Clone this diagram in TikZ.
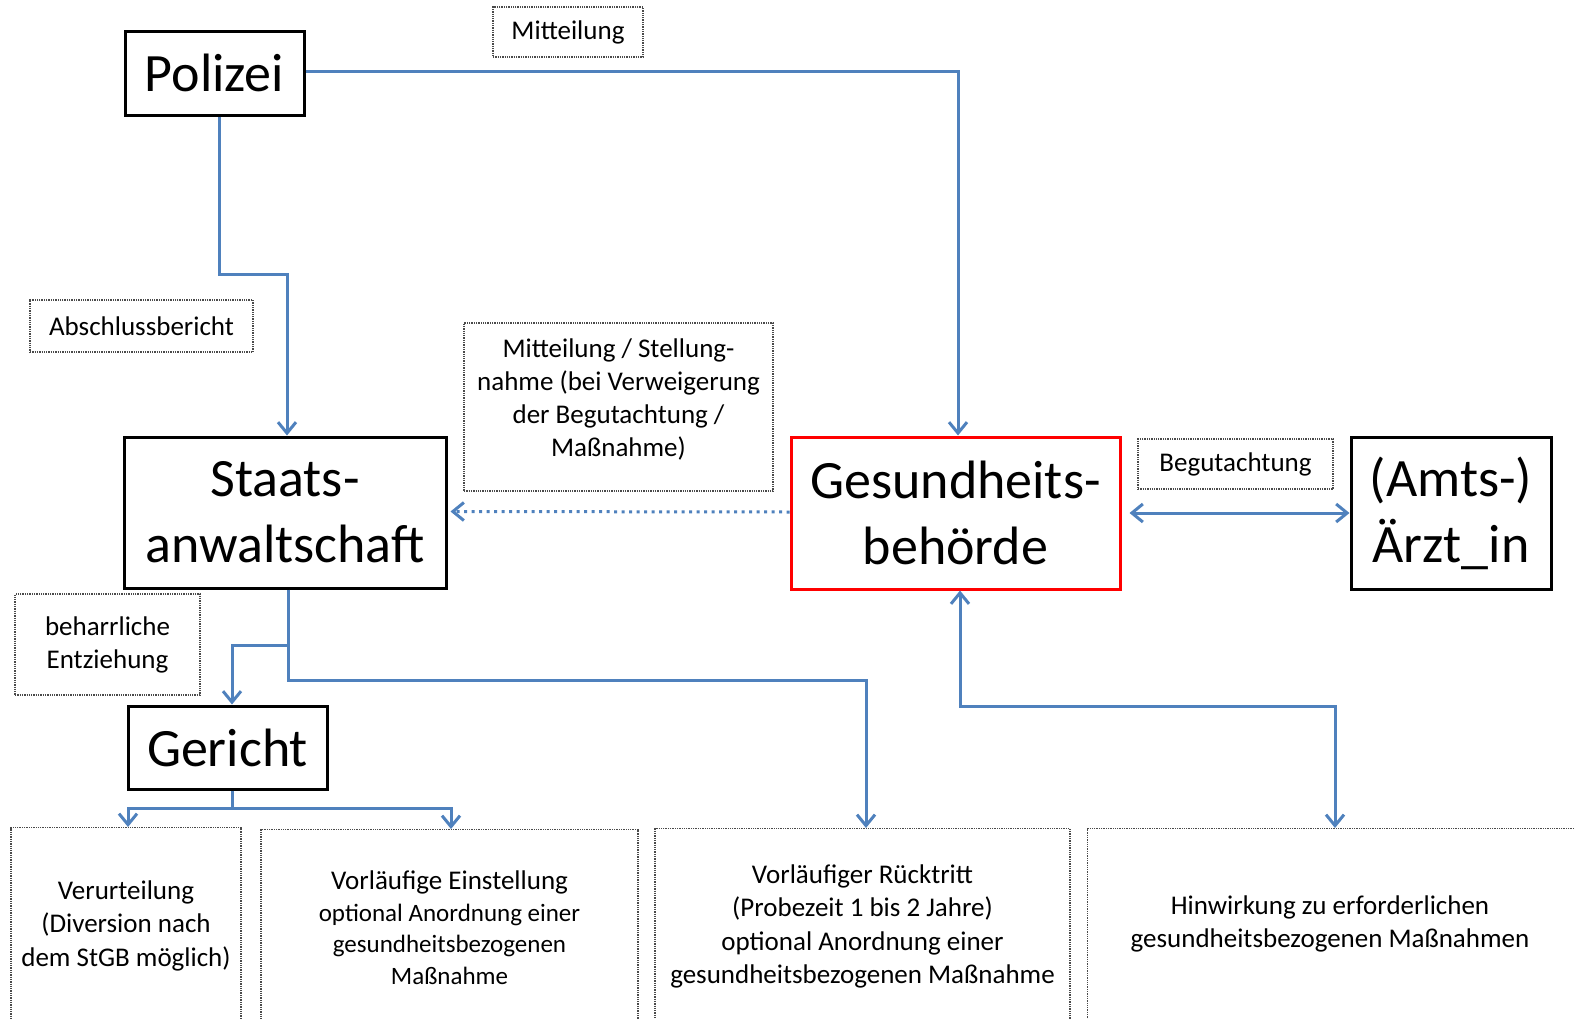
\documentclass[tikz,border=0pt]{standalone}
\usepackage{fontspec}
\setmainfont{Carlito}
\usetikzlibrary{arrows.meta}
\definecolor{flowblue}{HTML}{4F81BD}
\definecolor{labelgray}{HTML}{4A4A4A}
\newcommand{\smallline}{\fontsize{25}{31}\selectfont}

\begin{document}
\begin{tikzpicture}[x=1pt,y=-1pt,
  bigbox/.style={draw=black, line width=3pt, inner sep=0pt, align=center,
                 font=\fontsize{54}{66}\selectfont},
  lbl/.style={draw=labelgray, densely dotted, line width=1.3pt, inner sep=0pt,
              align=center, font=\fontsize{27}{33}\selectfont},
  lbltext/.style={inner sep=0pt, align=center, font=\fontsize{27}{33}\selectfont},
  outbox/.style={draw=labelgray, densely dotted, line width=1.3pt, inner sep=0pt,
                 align=center, anchor=north, minimum height=196,
                 font=\fontsize{27}{33.5}\selectfont},
  conn/.style={draw=flowblue, line width=3pt},
  arr/.style={-{Straight Barb[length=11pt,width=18pt]}},
  arrboth/.style={{Straight Barb[length=11pt,width=18pt]}-{Straight Barb[length=11pt,width=18pt]}},
]
\useasboundingbox (0,0) rectangle (1574,1018);
\clip (0,0) rectangle (1574,1018);

% main boxes
\node[bigbox, minimum width=179, minimum height=84] (pol) at (214.5,73) {Polizei};
\node[bigbox, minimum width=322, minimum height=151] (sta) at (285,512.5) {Staats-\\anwaltschaft};
\node[bigbox, draw=red, minimum width=329, minimum height=152] (gb) at (955.5,513) {Gesundheits-\\behörde};
\node[bigbox, minimum width=200, minimum height=152] (arzt) at (1451,513) {(Amts-)\\Ärzt\_in};
\node[bigbox, minimum width=199, minimum height=83] (ger) at (227.5,747.5) {Gericht};

% connector labels
\node[lbl, minimum width=150, minimum height=50] (mit) at (568,32) {Mitteilung};
\node[lbl, minimum width=223, minimum height=52] (absch) at (141.5,326) {Abschlussbericht};
\node[lbl, minimum width=309, minimum height=168] (ms) at (618.5,407) {};
\node[lbltext] (mstext) at (618.5,399) {Mitteilung / Stellung-\\nahme (bei Verweigerung\\der Begutachtung /\\Maßnahme)};
\node[lbl, minimum width=195, minimum height=50] (begut) at (1235.5,464) {Begutachtung};
\node[lbl, minimum width=185, minimum height=101] (behar) at (107.5,644.5) {beharrliche\\Entziehung};

% outcome boxes
\node[outbox, minimum width=230] (b1) at (126,827) {Verurteilung\\(Diversion nach\\dem StGB möglich)};
\node[outbox, minimum width=377] (b2) at (449.5,829) {Vorläufige Einstellung\\[-2pt]{\smallline optional Anordnung einer}\\[-2pt]{\smallline gesundheitsbezogenen}\\[-2pt]{\smallline Maßnahme}};
\node[outbox, minimum width=415] (b3) at (862.5,828) {Vorläufiger Rücktritt\\(Probezeit 1 bis 2 Jahre)\\optional Anordnung einer\\gesundheitsbezogenen Maßnahme};
\node[outbox, anchor=north west, minimum width=520] (b4) at (1087,828) {};
\node[lbltext] (b4text) at (1330,924) {Hinwirkung zu erforderlichen\\gesundheitsbezogenen Maßnahmen};

% junctions
\coordinate (pbend) at (287,274);
\coordinate (sj) at (288,645);
\coordinate (sb) at (288,680);
\coordinate (gj) at (232,808);
\coordinate (gbend) at (1335,706);
\coordinate (b4top) at (1335,828);

% connectors
\draw[conn, arr] ([yshift=2pt]pol.east) -| ([xshift=2.5pt]gb.north);
\draw[conn, arr] ([xshift=4.5pt]pol.south) |- (pbend) -- ([xshift=2pt]sta.north);
\draw[conn, arr, dash pattern=on 3pt off 4.5pt] ([yshift=1pt]gb.west) -- ([xshift=3pt,yshift=1pt]sta.east);
\draw[conn, arrboth] ([xshift=8pt]gb.east) -- (arzt.west);
\draw[conn, arr] ([xshift=3pt]sta.south) -- (sb) -| ([xshift=3.5pt]b3.north);
\draw[conn, arr] (sj) -| ([xshift=4.5pt]ger.north);
\draw[conn] ([xshift=4.5pt]ger.south) -- (gj);
\draw[conn, arr] (gj) -| ([xshift=2pt]b1.north);
\draw[conn, arr] (gj) -| ([xshift=1.5pt]b2.north);
\draw[conn, arrboth] ([xshift=4.5pt]gb.south) |- (gbend) -- (b4top);
\end{tikzpicture}
\end{document}
